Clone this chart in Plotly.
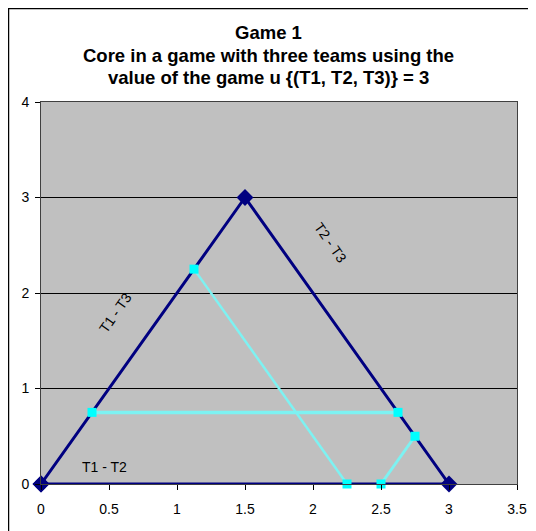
import plotly.graph_objects as go

# ===== data =====
# core boundary triangle
tri_x = [0, 1.5, 3, 0]
tri_y = [0, 3, 0, 0]
# cyan segments (imputations inside the core)
seg1_x = [1.125, 2.25]
seg1_y = [2.25, 0]
seg2_x = [0.375, 2.625]
seg2_y = [0.75, 0.75]
seg3_x = [2.5, 2.75]
seg3_y = [0, 0.5]

# edge labels: (text, x, y, angle)
edge_labels = [
    ("T1 - T2", 0.47, 0.18, 0),
    ("T1 - T3", 0.545, 1.79, -55),
    ("T2 - T3", 2.125, 2.53, 55),
]
title_lines = [
    "Game 1",
    "Core in a game with three teams using the",
    "value of the game u {(T1, T2, T3)} = 3",
]

x_ticks = [0, 0.5, 1, 1.5, 2, 2.5, 3, 3.5]
y_ticks = [0, 1, 2, 3, 4]

FONT = "Arial, Liberation Sans, sans-serif"
NAVY = "#000080"
CYAN = "#00FFFF"
CYAN_LINE = "rgb(125,242,242)"

fig = go.Figure()

fig.add_trace(go.Scatter(
    x=tri_x, y=tri_y, mode="lines+markers",
    line=dict(color=NAVY, width=3),
    marker=dict(symbol="diamond", size=13, color=NAVY),
    showlegend=False, cliponaxis=False,
))

for sx, sy, w in [(seg1_x, seg1_y, 2.5), (seg2_x, seg2_y, 3.5), (seg3_x, seg3_y, 3)]:
    fig.add_trace(go.Scatter(
        x=sx, y=sy, mode="lines+markers",
        line=dict(color=CYAN_LINE, width=w),
        marker=dict(symbol="square", size=9, color=CYAN),
        showlegend=False, cliponaxis=False,
    ))

for txt, lx, ly, ang in edge_labels:
    fig.add_annotation(x=lx, y=ly, text=txt, showarrow=False, textangle=ang,
                       font=dict(family=FONT, size=14, color="black"))

# three title lines placed individually for Excel-like spacing
for txt, py in zip(title_lines, [1.183, 1.123, 1.063]):
    fig.add_annotation(x=0.478, y=py, xref="paper", yref="paper", text="<b>%s</b>" % txt,
                       showarrow=False, yanchor="middle",
                       font=dict(family=FONT, size=18.5, color="black"))

# chart-area frame
fig.add_shape(type="rect", xref="paper", yref="paper",
              x0=-0.0683, x1=1.0294, y0=-0.2, y1=1.2448,
              line=dict(color="black", width=1.5))

fig.update_xaxes(range=[0, 3.5], tickvals=x_ticks, ticktext=[str(t) for t in x_ticks],
                 showgrid=False, zeroline=False, showline=True, mirror=True, automargin=False,
                 linecolor="#404040", linewidth=1, ticks="outside", ticklen=5,
                 ticklabelstandoff=7,
                 tickcolor="black", tickfont=dict(family=FONT, size=14, color="black"))
fig.update_yaxes(range=[0, 4], tickvals=y_ticks,
                 showgrid=True, gridcolor="black", gridwidth=1, zeroline=False, automargin=False,
                 showline=True, mirror=True, linecolor="#404040", linewidth=1,
                 ticks="outside", ticklen=5, tickcolor="black", ticklabelstandoff=3,
                 tickfont=dict(family=FONT, size=14, color="black"))

# page body adds an 8px offset, so the figure is 8px smaller on each side
fig.update_layout(
    width=528, height=523,
    margin=dict(l=33, r=19, t=94, b=47),
    paper_bgcolor="white", plot_bgcolor="#C0C0C0",
    font=dict(family=FONT),
)

fig.write_html("out.html")
